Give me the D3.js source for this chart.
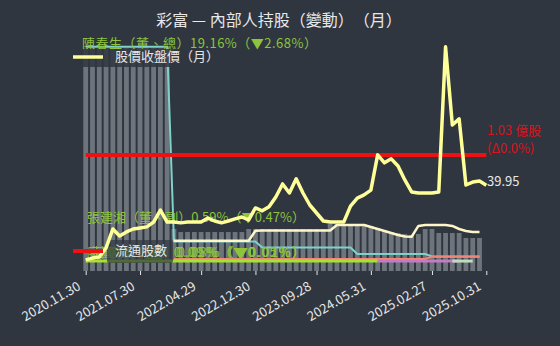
<!DOCTYPE html>
<html>
<head>
<meta charset="utf-8">
<script src="https://cdn.jsdelivr.net/npm/d3@7"></script>
<style>
  body { margin: 0; background: #2f3640; }
  svg text {
    font-family: "Noto Sans CJK TC", "Noto Sans", sans-serif;
    text-spacing-trim: space-all;
    font-feature-settings: "chws" 0, "halt" 0;
  }
</style>
</head>
<body>
<div id="chart"></div>
<script>
// month-end dates (x categories)
const months = [
  "2020.11.30","2020.12.31",
  "2021.01.29","2021.02.26","2021.03.31","2021.04.30","2021.05.31","2021.06.30",
  "2021.07.30","2021.08.31","2021.09.30","2021.10.29","2021.11.30","2021.12.30",
  "2022.01.27","2022.02.25","2022.03.31","2022.04.29","2022.05.31","2022.06.30",
  "2022.07.29","2022.08.31","2022.09.30","2022.10.31","2022.11.30","2022.12.30",
  "2023.01.17","2023.02.24","2023.03.31","2023.04.28","2023.05.31","2023.06.30",
  "2023.07.31","2023.08.31","2023.09.28","2023.10.31","2023.11.30","2023.12.29",
  "2024.01.31","2024.02.29","2024.03.29","2024.04.30","2024.05.31","2024.06.28",
  "2024.07.31","2024.08.30","2024.09.30","2024.10.30","2024.11.29","2024.12.31",
  "2025.01.22","2025.02.27","2025.03.31","2025.04.30","2025.05.29","2025.06.30",
  "2025.07.31","2025.08.29","2025.09.30","2025.10.31"
];
const tickDates = ["2020.11.30","2021.07.30","2022.04.29","2022.12.30",
                   "2023.09.28","2024.05.31","2025.02.27","2025.10.31"];

// total insider holding (%), one bar per month (last month not reported yet)
const totalHold = [
  19.0,19.0,19.0,19.0,19.0,19.0,19.0,19.0,19.0,19.0,19.0,19.0,19.0,
  3.59,3.33,3.33,3.33,3.33,3.33,3.33,3.33,3.33,3.33,3.33,
  3.59,3.59,3.59,3.59,3.59,3.59,3.59,3.59,3.59,3.59,3.59,3.59,
  4.02,4.02,4.02,4.02,4.02,4.02,
  3.85,3.68,3.50,3.33,3.25,3.16,3.08,3.16,3.59,3.59,
  3.25,3.25,3.25,3.25,2.82,2.82,2.82, null
];

// individual insiders (%)
const holdChen = [
  19.16,19.16,19.16,19.16,19.16,19.16,19.16,19.16,19.16,19.16,19.16,19.16,19.16,
  2.52,2.52,2.52,2.52,2.52,2.52,2.52,2.52,2.52,2.52,2.52,2.52,2.52,
  2.01,2.01,2.01,2.01,2.01,2.01,2.01,2.01,2.01,2.01,2.01,2.01,2.01,2.01,
  1.45,1.45,1.45,1.45,1.45,1.45,1.45,1.45,1.45,1.45,1.45,
  1.24,1.24,1.24,1.24,1.24,1.24,1.24,1.24, null
];
const holdChang = [
  null,null,null,null,null,null,null,null,null,null,null,null,null,
  2.59,2.59,2.59,2.59,2.59,2.59,2.59,2.59,2.59,2.59,2.59,2.59,
  3.44,3.46,3.46,3.46,3.46,3.46,3.46,3.46,3.46,3.46,3.46,3.46,
  3.93,3.93,3.93,3.93,3.93,
  3.76,3.59,3.42,3.25,3.08,2.95,2.93,3.85,3.93,3.93,3.93,3.93,
  3.85,3.59,3.42,3.33,3.33, null
];
const holdC = [
  null,null,null,null,null,null,null,null,null,null,null,null,null,
  1.03,1.03,1.03,1.03,1.03,1.03,1.03,1.03,1.03,1.03,1.03,1.03,1.03,
  1.03,1.03,1.03,1.03,1.03,1.03,1.03,1.03,1.03,1.03,1.03,1.03,1.03,
  1.03,1.03,1.03,1.03,1.03,1.03,1.03,1.03,1.03,1.03,1.03,1.03,
  1.22,1.22,1.22,1.22,1.22,1.22,1.22,1.22, null
];
const holdD = [
  0.85,0.85,0.85,0.85,0.85,0.85,0.85,0.85,0.85,0.85,0.85,0.85,0.85,
  0.85,0.85,0.85,0.85,0.85,0.85,0.85,0.85,0.85,0.85,0.85,0.85,0.85,
  0.85,0.85,0.85,0.85,0.85,0.85,0.85,0.85,0.85,0.85,0.85,0.85,0.85,
  0.85,0.85,0.85,0.85,0.85,
  null,null,null,null,null,null,null,null,null,null,null,null,null,null,null,null
];
const holdE = [
  null,null,null,null,null,null,null,null,null,null,null,null,null,
  null,null,null,null,null,null,null,null,null,null,null,null,null,
  null,null,null,null,null,null,null,null,null,null,null,null,null,
  null,null,null,null,
  0.85,0.85,0.85,0.85,0.85,0.85,0.85,0.85,0.85,0.85,0.85,0.85,0.85,
  null,null,null,null
];
const holdF = [
  null,null,null,null,null,null,null,null,null,null,null,null,null,
  null,null,null,null,null,null,null,null,null,null,null,null,null,
  null,null,null,null,null,null,null,null,null,null,null,null,null,
  null,null,null,null,null,null,null,null,null,null,null,null,null,null,null,
  0.85,0.85,0.85,0.85, null
];

// closing price (right axis, hidden)
const price = [
  11.9,12.6,13.0,16.4,23.5,20.9,22.4,23.5,23.9,24.3,26.1,30.6,26.1,
  26.1,25.8,26.1,26.1,26.1,27.6,26.5,25.8,26.5,27.3,28.0,26.9,
  31.4,30.3,31.8,35.5,40.4,37.0,42.3,37.0,32.5,29.5,26.5,26.1,26.1,26.1,
  32.1,35.1,36.3,38.1,51.3,48.3,49.8,47.1,41.9,37.4,37.0,37.0,37.0,37.4,
  91.8,62.5,64.8,40.0,41.1,41.5,39.95
];

// shares outstanding (億股)
const shares = months.map(() => 1.03);

const W = 560, H = 346;
const x0 = 85.7, x1 = 486.3, yBase = 271;

const svg = d3.select("#chart").append("svg")
    .attr("width", W).attr("height", H)
    .style("background", "#2f3640");

const x = d3.scalePoint().domain(months).range([x0, x1]);
const yHold = d3.scaleLinear().domain([0, 20]).range([yBase, 37]);
const yPrice = d3.scaleLinear().domain([10, 100]).range([265, 25]);
const yShares = d3.scaleLinear().domain([0, 2]).range([yBase, 45.8]);

// bars
const barW = 4.8;
svg.append("g").selectAll("rect")
    .data(months.map((m, i) => ({m, v: totalHold[i]})).filter(d => d.v != null))
    .enter().append("rect")
    .attr("x", d => x(d.m) - barW / 2)
    .attr("width", barW)
    .attr("y", d => yHold(d.v))
    .attr("height", d => yBase - yHold(d.v))
    .attr("fill", "#6d747c");

function drawLine(vals, yScale, color, width) {
    const line = d3.line()
        .defined(d => d[1] != null)
        .x(d => x(d[0]))
        .y(d => yScale(d[1]));
    svg.append("path")
        .datum(months.map((m, i) => [m, vals[i]]))
        .attr("fill", "none")
        .attr("stroke", color)
        .attr("stroke-width", width)
        .attr("stroke-linejoin", "round")
        .attr("d", line);
}

drawLine(holdChen, yHold, "#7fd1cc", 2);
drawLine(holdChang, yHold, "#fff6c8", 2.5);
drawLine(holdC, yHold, "#f08578", 2);
drawLine(holdD, yHold, "#a6e22e", 3);
drawLine(holdE, yHold, "#c37cc3", 3);
drawLine(holdF, yHold, "#bfdcbf", 3);

// x axis
const xAxis = svg.append("g")
    .attr("transform", `translate(0,${yBase})`)
    .call(d3.axisBottom(x).tickValues(tickDates).tickSize(4).tickSizeOuter(0));
xAxis.select(".domain").remove();
xAxis.selectAll("line").attr("stroke", "#e8e8e8");
xAxis.selectAll("text")
    .attr("fill", "#e8e8e8")
    .style("font-size", "13px")
    .style("text-anchor", "end")
    .attr("x", 0).attr("y", 0)
    .attr("dy", "0.35em")
    .attr("transform", "translate(-7,14) rotate(-30)");

// insider labels
const green = "#8cc43c";
function label(t, lx, ly, len) {
    svg.append("text").attr("x", lx).attr("y", ly)
        .attr("fill", green).style("font-size", "13px")
        .attr("textLength", len).attr("lengthAdjust", "spacing")
        .attr("dominant-baseline", "middle").text(t);
}
label("陳春生（董、總）19.16%（▼2.68%）", 82, 44, 235);
label("張建湘（董、副）0.59%（▼0.47%）", 87, 218, 218);
label("廖國智（董）0.09%（▼0.05%）", 87, 253, 218);
label("王昭雄（監）0.05%（▼0.02%）", 90, 253, 215);
label("林信宏（董）0.08%（▼0.01%）", 93, 253, 212);

// legends
svg.append("rect").attr("x", 66).attr("y", 49).attr("width", 162).attr("height", 18)
    .attr("rx", 2).attr("fill", "#2f3640").attr("opacity", 0.85);
svg.append("line").attr("x1", 73).attr("x2", 103).attr("y1", 57).attr("y2", 57)
    .attr("stroke", "#ffff99").attr("stroke-width", 3.5);
svg.append("text").attr("x", 115).attr("y", 57).attr("fill", "#e8e8e8")
    .style("font-size", "13px").attr("dominant-baseline", "middle").text("股價收盤價（月）");

// shares and price above the lower legend box
svg.append("rect").attr("x", 107).attr("y", 240).attr("width", 66).attr("height", 23)
    .attr("rx", 2).attr("fill", "#2f3640").attr("opacity", 0.7);
drawLine(shares, yShares, "#ee1111", 4);
drawLine(price, yPrice, "#ffff99", 3.5);
svg.append("line").attr("x1", 73).attr("x2", 103).attr("y1", 251).attr("y2", 251)
    .attr("stroke", "#ee1111").attr("stroke-width", 4);
svg.append("text").attr("x", 115).attr("y", 251).attr("fill", "#e8e8e8")
    .style("font-size", "13px").attr("dominant-baseline", "middle").text("流通股數");

// right side labels
svg.append("text").attr("x", 487).attr("y", 131).attr("fill", "#d8141c")
    .style("font-size", "13px").attr("dominant-baseline", "middle").text("1.03 億股");
svg.append("text").attr("x", 487).attr("y", 149).attr("fill", "#d8141c")
    .style("font-size", "13px").attr("dominant-baseline", "middle").text("(Δ0.0%)");
svg.append("text").attr("x", 487).attr("y", 182).attr("fill", "#e8e8e8")
    .style("font-size", "13px").attr("dominant-baseline", "middle").text(price[price.length - 1].toFixed(2));

// title
svg.append("text").attr("x", 279).attr("y", 22).attr("text-anchor", "middle")
    .attr("fill", "#e8e8e8").style("font-size", "16px")
    .attr("dominant-baseline", "middle").text("彩富 — 內部人持股（變動）（月）");
</script>
</body>
</html>
